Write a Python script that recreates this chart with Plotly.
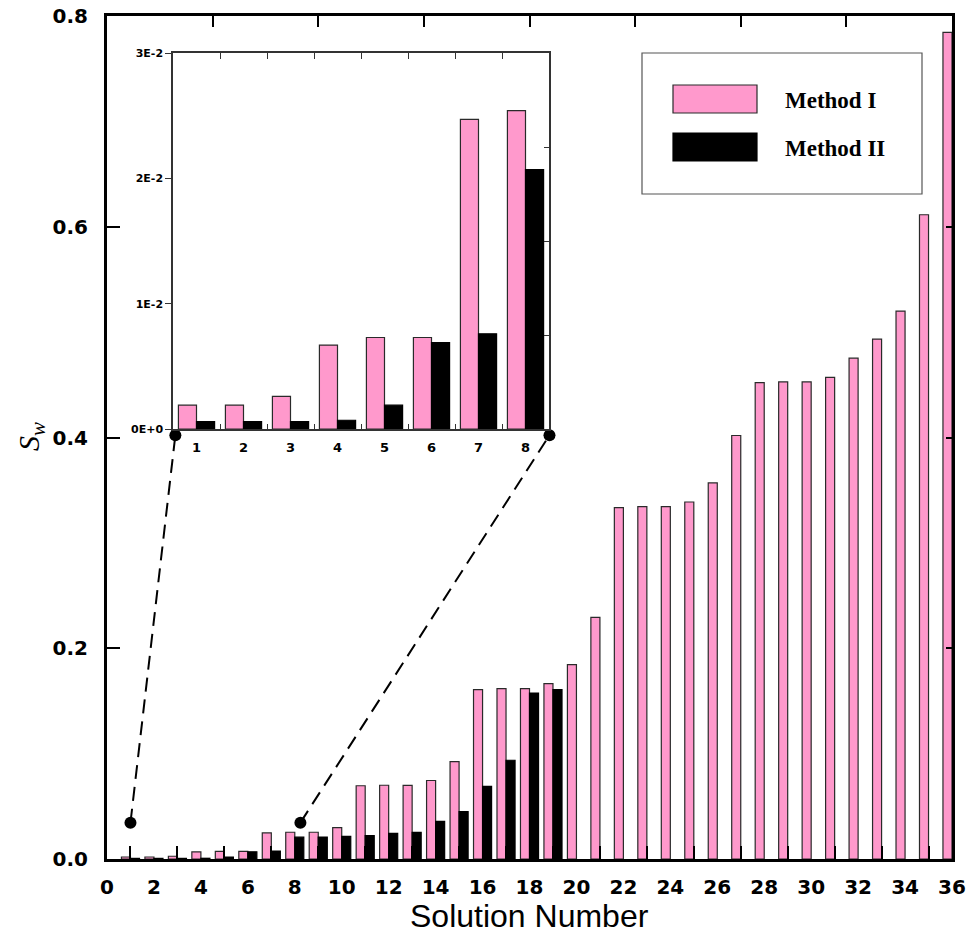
import plotly.graph_objects as go

# ---------------- data ----------------
solutions = list(range(1, 37))
method_1 = [0.0019, 0.0019, 0.0026, 0.0067, 0.0073, 0.0073, 0.0247, 0.0254, 0.0254, 0.0297,
            0.0695, 0.0700, 0.0698, 0.0745, 0.0925, 0.1607, 0.1617, 0.1617, 0.1664, 0.1845,
            0.2293, 0.3334, 0.3344, 0.3344, 0.3388, 0.3569, 0.4019, 0.4520, 0.4527, 0.4527,
            0.4571, 0.4753, 0.4934, 0.5200, 0.6114, 0.7845]
method_2 = [0.0006, 0.0006, 0.0006, 0.0007, 0.0019, 0.0069, 0.0076, 0.0207, 0.0209, 0.0215,
            0.0221, 0.0244, 0.0253, 0.0358, 0.0449, 0.0690, 0.0937, 0.1575, 0.1607] + [None] * 17
inset_solutions = solutions[:8]
inset_m1 = method_1[:8]
inset_m2 = method_2[:8]
series_names = ["Method I", "Method II"]
x_ticks = list(range(0, 37, 2))
x_minor = list(range(1, 36, 2))
y_ticks = [0.0, 0.2, 0.4, 0.6, 0.8]
y_right_ticks = [0.2, 0.4, 0.6]
x_top_ticks = [4.5, 9, 13.5, 18, 22.5, 27, 31.5]
inset_y_ticks = [0, 0.01, 0.02, 0.03]
inset_y_labels = ["0E+0", "1E-2", "2E-2", "3E-2"]
inset_right_ticks = [0.0075, 0.015, 0.0225]
inset_between = [1.5, 2.5, 3.5, 4.5, 5.5, 6.5, 7.5]
zoom_x = [1, 8.24]
zoom_y = [0.0345, 0.0345]
x_title = "Solution Number"
y_title = "<i>S<sub>w</sub></i>"

# ---------------- layout geometry ----------------
W, H = 979, 933
L, R, T, B = 107, 27, 16, 74
PW, PH = W - L - R, H - T - B
XR = [0, 36]
YR = [0, 0.8]
IXR = [0.5, 8.5]
IYR = [0, 0.03]


def px_x(p):
    return (p - L) / PW


def px_y(p):
    return (H - B - p) / PH


IDX = [px_x(173), px_x(549)]
IDY = [px_y(429), px_y(53)]


def inset_to_main(ix, iy):
    fx = IDX[0] + (ix - IXR[0]) / (IXR[1] - IXR[0]) * (IDX[1] - IDX[0])
    fy = IDY[0] + (iy - IYR[0]) / (IYR[1] - IYR[0]) * (IDY[1] - IDY[0])
    return XR[0] + fx * (XR[1] - XR[0]), YR[0] + fy * (YR[1] - YR[0])


PINK = "#FF99CC"
EDGE = "#2a2a2a"
BOLD = "DejaVu Sans"

fig = go.Figure()

# main bars
fig.add_trace(go.Bar(x=solutions, y=method_1, name=series_names[0], marker=dict(color=PINK, line=dict(color=EDGE, width=1.2)),
                     xaxis="x", yaxis="y", showlegend=False))
fig.add_trace(go.Bar(x=solutions, y=method_2, name=series_names[1], marker=dict(color="black", line=dict(color="black", width=1.2)),
                     xaxis="x", yaxis="y", showlegend=False))
# inset bars
fig.add_trace(go.Bar(x=inset_solutions, y=inset_m1, name=series_names[0], marker=dict(color=PINK, line=dict(color=EDGE, width=1.2)),
                     xaxis="x3", yaxis="y3", showlegend=False))
fig.add_trace(go.Bar(x=inset_solutions, y=inset_m2, name=series_names[1], marker=dict(color="black", line=dict(color="black", width=1.2)),
                     xaxis="x3", yaxis="y3", showlegend=False))

# empty traces to register overlay subplots
fig.add_trace(go.Scatter(x=[None], y=[None], mode="markers", xaxis="x2", yaxis="y2", showlegend=False, hoverinfo="skip"))
fig.add_trace(go.Scatter(x=[None], y=[None], mode="markers", xaxis="x4", yaxis="y4", showlegend=False, hoverinfo="skip"))

# connectors
corner_l = inset_to_main(0.55, -0.0005)
corner_r = inset_to_main(8.51, -0.0005)
for (mx, my), (cx, cy) in zip(zip(zoom_x, zoom_y), [corner_l, corner_r]):
    fig.add_trace(go.Scatter(x=[mx, cx], y=[my, cy], mode="lines+markers",
                             line=dict(color="black", width=2, dash="14px,8px"),
                             marker=dict(color="black", size=12),
                             cliponaxis=False, showlegend=False, hoverinfo="skip",
                             xaxis="x", yaxis="y"))

main_font = dict(family=BOLD, size=20, color="black", weight="bold")
inset_line = "#333"

fig.update_layout(
    width=W, height=H,
    margin=dict(l=L, r=R, t=T, b=B, pad=0),
    paper_bgcolor="white", plot_bgcolor="white",
    barmode="group", bargap=0.23, bargroupgap=0,
    xaxis=dict(showgrid=False, zeroline=False, linecolor="black", automargin=False,
               range=XR, domain=[0, 1], anchor="y", linewidth=3, showline=True,
               tickmode="array", tickvals=x_ticks, ticks="",
               tickfont=main_font, ticklabelstandoff=8,
               minor=dict(tickvals=x_minor, ticks="inside", ticklen=13, tickwidth=2, tickcolor="black")),
    yaxis=dict(showgrid=False, zeroline=False, linecolor="black", automargin=False,
               range=YR, domain=[0, 1], anchor="x", linewidth=3, showline=True,
               tickmode="array", tickvals=y_ticks, tickformat=".1f", ticks="inside", ticklen=13, tickwidth=2,
               tickcolor="black", tickfont=main_font, ticklabelstandoff=12),
    xaxis2=dict(showgrid=False, zeroline=False, linecolor="black", automargin=False,
                range=XR, overlaying="x", side="top", anchor="y", linewidth=3, showline=True,
                tickmode="array", tickvals=x_top_ticks, ticks="inside", ticklen=11, tickwidth=2, tickcolor="black",
                showticklabels=False),
    yaxis2=dict(showgrid=False, zeroline=False, linecolor="black", automargin=False,
                range=YR, overlaying="y", side="right", anchor="x", linewidth=3, showline=True,
                tickmode="array", tickvals=y_right_ticks, ticks="inside", ticklen=6, tickwidth=2, tickcolor="black",
                showticklabels=False),
    xaxis3=dict(showgrid=False, zeroline=False, linecolor=inset_line, automargin=False,
                range=IXR, domain=IDX, anchor="y3", linewidth=1.5, showline=True,
                tickmode="array", tickvals=inset_solutions, ticks="",
                tickfont=dict(family=BOLD, size=13, color="black", weight="bold"), ticklabelstandoff=6,
                minor=dict(tickvals=inset_between, ticks="inside", ticklen=5, tickwidth=1.2, tickcolor=inset_line)),
    yaxis3=dict(showgrid=False, zeroline=False, linecolor=inset_line, automargin=False,
                range=IYR, domain=IDY, anchor="x3", linewidth=1.5, showline=True,
                tickmode="array", tickvals=inset_y_ticks, ticktext=inset_y_labels, ticks="outside", ticklen=6,
                tickwidth=1.2, tickcolor=inset_line, tickfont=dict(family=BOLD, size=11, color="black", weight="bold")),
    xaxis4=dict(showgrid=False, zeroline=False, linecolor=inset_line, automargin=False,
                range=IXR, overlaying="x3", side="top", anchor="y3",
                linewidth=1.5, showline=True, tickmode="array", tickvals=inset_between, ticks="inside", ticklen=6,
                tickwidth=1.2, tickcolor=inset_line, showticklabels=False),
    yaxis4=dict(showgrid=False, zeroline=False, linecolor=inset_line, automargin=False,
                range=IYR, overlaying="y3", side="right", anchor="x3",
                linewidth=1.5, showline=True, tickmode="array", tickvals=inset_right_ticks, ticks="inside", ticklen=5,
                tickwidth=1.2, tickcolor=inset_line, showticklabels=False),
    showlegend=False,
)

# axis titles
fig.add_annotation(xref="paper", yref="paper", x=0.5, y=px_y(916), text=x_title, showarrow=False,
                   xanchor="center", yanchor="middle",
                   font=dict(family="Liberation Sans", size=32, color="black"))
fig.add_annotation(xref="paper", yref="paper", x=px_x(31), y=px_y(437), text=y_title, showarrow=False,
                   xanchor="center", yanchor="middle", textangle=-90,
                   font=dict(family="Liberation Serif", size=30, color="black"))

# manual legend (box, swatches, labels)
fig.add_shape(type="rect", xref="paper", yref="paper", x0=px_x(642), x1=px_x(922), y0=px_y(194), y1=px_y(53),
              line=dict(color="#555", width=1.2), fillcolor="white", layer="below")
swatch_colors = [PINK, "black"]
swatch_tops = [85, 133]
for name, col, top in zip(series_names, swatch_colors, swatch_tops):
    fig.add_shape(type="rect", xref="paper", yref="paper", x0=px_x(673), x1=px_x(757), y0=px_y(top + 28), y1=px_y(top),
                  line=dict(color=EDGE if col == PINK else "black", width=1.2), fillcolor=col)
    fig.add_annotation(xref="paper", yref="paper", x=px_x(783), y=px_y(top + 15), text="<b>%s</b>" % name,
                       showarrow=False, xanchor="left", yanchor="middle",
                       font=dict(family="Liberation Serif", size=23, color="black"))

fig.write_html("out.html", config={"displayModeBar": False},
               post_script="document.body.style.margin='0';document.body.style.overflow='hidden';")
